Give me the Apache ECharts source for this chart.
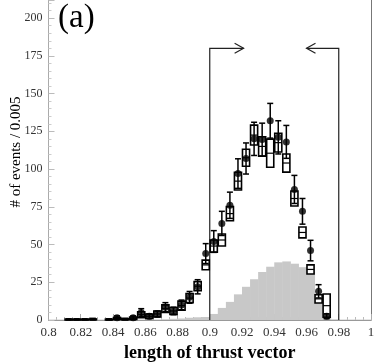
<!DOCTYPE html>
<html>
<head>
<meta charset="utf-8">
<script src="https://cdn.jsdelivr.net/npm/echarts@6/dist/echarts.min.js"></script>
<style>
html, body { margin: 0; padding: 0; background: #fff; }
#chart { width: 374px; height: 364px; }
</style>
</head>
<body>
<div id="chart"></div>
<script>
// lower edge of every 0.005 bin
const bins = [
  0.800, 0.805, 0.810, 0.815, 0.820, 0.825, 0.830, 0.835, 0.840, 0.845,
  0.850, 0.855, 0.860, 0.865, 0.870, 0.875, 0.880, 0.885, 0.890, 0.895,
  0.900, 0.905, 0.910, 0.915, 0.920, 0.925, 0.930, 0.935, 0.940, 0.945,
  0.950, 0.955, 0.960, 0.965, 0.970, 0.975, 0.980, 0.985, 0.990, 0.995
];
const binWidth = 0.005;

// measured events (dots) and their errors
const dataVal = [
  null, null, 0.3, 0.3, 0.3, 0.5, null, 0.3, 1.5, 0.5,
  1.5, 5, 2.5, 4, 8.5, 6, 10, 15, 22, 44,
  52, 64, 76, 97, 107, 120, 119.5, 132, 121, 118,
  86.5, 72, 46, 19, 2.5, null, null, null, null, null
];
const dataErr = [
  0, 0, 0.5, 0.5, 0.5, 0.6, 0, 0.5, 1.2, 0.6,
  1.2, 2.5, 1.6, 2, 3, 2.5, 3.2, 3.9, 4.7, 6.6,
  7.2, 8, 8.7, 9.8, 10.3, 11, 10.9, 11.5, 11, 10.9,
  9.3, 8.5, 6.8, 4.4, 1.6, 0, 0, 0, 0, 0
];

// simulation (open boxes): central value and half height
const mcVal = [
  null, null, 0.3, 0.3, 0.3, 0.4, null, 0.3, 1, 0.5,
  1.2, 3.5, 2.5, 4, 7.5, 6, 9.5, 14.5, 22.4, 36.5,
  49, 53, 70.5, 92, 107.5, 122.5, 115, 110.5, 117.5, 104,
  80.5, 58, 33.5, 14, 9.5, null, null, null, null, null
];
const mcErr = [
  0, 0, 0.3, 0.3, 0.3, 0.3, 0, 0.3, 0.6, 0.4,
  0.8, 2, 1.5, 2, 2.5, 2.3, 3, 3, 3, 3.2,
  4, 4, 4.7, 5.9, 5.6, 6.6, 6.4, 9.3, 6.2, 6,
  5, 3.6, 3, 2.7, 7.7, 0, 0, 0, 0, 0
];

// background (grey filled histogram)
const bkgVal = [
  0.3, 0.3, 0.3, 0.3, 0.3, 0.3, 0.3, 0.3, 0.3, 0.3,
  0.3, 0.3, 0.3, 0.3, 0.5, 0.8, 1, 1.5, 1.8, 2,
  4, 8, 12, 17, 22, 27, 31.8, 35.3, 38.2, 38.8,
  37.3, 35, 32, 15.5, 2, 0.5, 0.3, 0.3, 0.3, 0.3
];

// selection window: cut positions, arrow tips, height of the bracket
const cuts = [0.9, 0.98];
const arrowTips = [0.921, 0.960];
const cutHeight = 180;

const serif = "'Liberation Serif', 'DejaVu Serif', serif";

const chart = echarts.init(document.getElementById("chart"));

const rectOf = (api, x0, x1, y0, y1) => {
  const a = api.coord([x0, y1]);
  const b = api.coord([x1, y0]);
  return { x: a[0], y: a[1], width: b[0] - a[0], height: b[1] - a[1] };
};

const option = {
  animation: false,
  backgroundColor: "#fff",
  grid: { left: 48.5, right: 3, top: 0, bottom: 44, containLabel: false, outerBoundsMode: "none" },
  graphic: [
    {
      type: "text",
      left: 58,
      top: 2,
      style: { text: "(a)", font: "33px " + serif, fill: "#000" }
    },
    {
      // y axis title
      type: "text",
      x: 16,
      y: 152,
      rotation: Math.PI / 2,
      style: {
        text: "# of events / 0.005",
        font: "15px " + serif,
        fill: "#000",
        align: "center",
        verticalAlign: "middle"
      }
    }
  ],
  xAxis: {
    type: "value",
    min: 0.8,
    max: 1.0,
    interval: 0.02,
    name: "length of thrust vector",
    nameLocation: "middle",
    nameGap: 24,
    nameTextStyle: { fontFamily: serif, fontSize: 18, fontWeight: "bold", color: "#000" },
    axisLine: { lineStyle: { color: "#999", width: 1 } },
    axisTick: { inside: true, length: 6, lineStyle: { color: "#aaa" } },
    minorTick: { show: true, splitNumber: 4, length: 3, lineStyle: { color: "#bbb" } },
    splitLine: { show: false },
    axisLabel: {
      showMinLabel: true,
      showMaxLabel: true,
      margin: 6,
      fontFamily: serif,
      fontSize: 13,
      color: "#333",
      formatter: (v) => String(+v.toFixed(2))
    }
  },
  yAxis: [
    {
      type: "value",
      min: 0,
      max: 212,
      interval: 25,
      axisLine: { show: true, lineStyle: { color: "#aaa", width: 1 } },
      axisTick: { inside: true, length: 6, lineStyle: { color: "#bbb" } },
      minorTick: { show: true, splitNumber: 5, length: 3, lineStyle: { color: "#ccc" } },
      splitLine: { show: false },
      axisLabel: {
        margin: 6,
        fontFamily: serif,
        fontSize: 12,
        color: "#333",
        formatter: (v) => (v % 25 === 0 ? String(v) : "")
      }
    },
    {
      type: "value",
      position: "right",
      min: 0,
      max: 212,
      axisLine: { show: true, lineStyle: { color: "#777", width: 1 } },
      axisTick: { show: false },
      axisLabel: { show: false },
      splitLine: { show: false }
    }
  ],
  series: [
    {
      name: "background",
      type: "custom",
      z: 1,
      data: bins.map((b, i) => [b, bkgVal[i]]),
      renderItem: (params, api) => {
        const x0 = api.value(0);
        const r = rectOf(api, x0, x0 + binWidth, 0, api.value(1));
        r.width += 0.5;
        return { type: "rect", shape: r, style: { fill: "#c8c8c8" } };
      }
    },
    {
      name: "cuts",
      type: "custom",
      z: 2,
      data: cuts.map((c, i) => [c, cutHeight, arrowTips[i]]),
      renderItem: (params, api) => {
        const c = api.value(0), h = api.value(1), tip = api.value(2);
        const p0 = api.coord([c, 0]);
        const p1 = api.coord([c, h]);
        const t = api.coord([tip, h]);
        const d = tip > c ? 1 : -1;
        const style = { stroke: "#222", lineWidth: 1.2, fill: null };
        return {
          type: "group",
          children: [
            { type: "polyline", shape: { points: [p0, p1, t] }, style },
            {
              type: "polyline",
              shape: { points: [[t[0] - d * 9, t[1] - 5], t, [t[0] - d * 9, t[1] + 5]] },
              style
            }
          ]
        };
      }
    },
    {
      name: "simulation",
      type: "custom",
      z: 3,
      data: bins.map((b, i) => [b + binWidth / 2, mcVal[i], mcErr[i]]).filter((d) => d[1] !== null),
      renderItem: (params, api) => {
        const xc = api.value(0), v = api.value(1), e = api.value(2);
        const r = rectOf(api, xc - binWidth * 0.44, xc + binWidth * 0.44, v - e, v + e);
        const m = api.coord([xc, v]);
        const style = { stroke: "#000", lineWidth: 1.6, fill: "#fff" };
        return {
          type: "group",
          children: [
            { type: "rect", shape: r, style },
            {
              type: "line",
              shape: { x1: r.x, y1: m[1], x2: r.x + r.width, y2: m[1] },
              style: { stroke: "#000", lineWidth: 1.2 }
            }
          ]
        };
      }
    },
    {
      name: "errors",
      type: "custom",
      z: 4,
      data: bins.map((b, i) => [b + binWidth / 2, dataVal[i], dataErr[i]]).filter((d) => d[1] !== null),
      renderItem: (params, api) => {
        const xc = api.value(0), v = api.value(1), e = api.value(2);
        const top = api.coord([xc, v + e]);
        const bot = api.coord([xc, Math.max(v - e, 0)]);
        const style = { stroke: "#000", lineWidth: 1.5 };
        return {
          type: "group",
          children: [
            { type: "line", shape: { x1: top[0], y1: top[1], x2: bot[0], y2: bot[1] }, style },
            { type: "line", shape: { x1: top[0] - 3, y1: top[1], x2: top[0] + 3, y2: top[1] }, style },
            { type: "line", shape: { x1: bot[0] - 3, y1: bot[1], x2: bot[0] + 3, y2: bot[1] }, style }
          ]
        };
      }
    },
    {
      name: "data",
      type: "scatter",
      z: 5,
      symbol: "circle",
      symbolSize: 7,
      itemStyle: { color: "#000" },
      data: bins.map((b, i) => [b + binWidth / 2, dataVal[i]]).filter((d) => d[1] !== null && d[1] > 1)
    }
  ]
};
chart.setOption(option);
</script>
</body>
</html>
